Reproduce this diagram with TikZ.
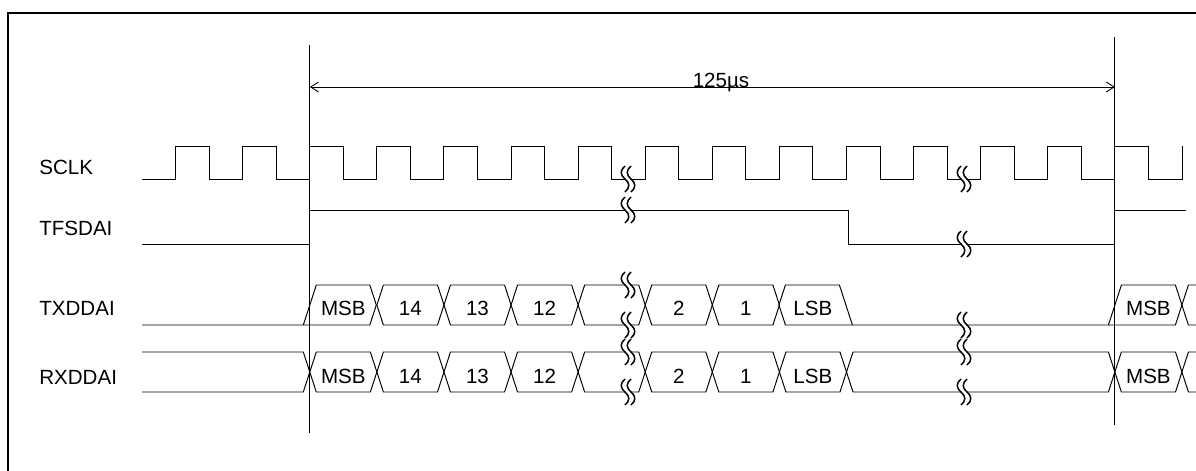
\documentclass[tikz,border=0pt]{standalone}
\usepackage{fontspec}
\setmainfont{Liberation Sans}
\usetikzlibrary{arrows.meta}

\begin{document}
\begin{tikzpicture}[
    x=0.02cm, y=-0.02cm,
    wave/.style={draw, line width=0.55pt},
    marker/.style={draw, line width=0.6pt},
    dim/.style={draw, line width=0.5pt, {Straight Barb[length=4.5pt,width=5.7pt]}-{Straight Barb[length=4.5pt,width=5.7pt]}},
    sig/.style={anchor=base west, inner sep=0pt, font={\fontsize{11.7pt}{14pt}\selectfont}},
    bit/.style={anchor=base, inner sep=0pt, font={\fontsize{11.7pt}{14pt}\selectfont}},
    brk/.pic={
      \fill[white] (-3,-13) .. controls (-8,-9) and (-8,-4) .. (-3,0) .. controls (2,4) and (2,9) .. (-3,13)
        -- (3,13) .. controls (8,9) and (8,4) .. (3,0) .. controls (-2,-4) and (-2,-9) .. (3,-13) -- cycle;
      \draw[line width=0.85pt] (-3,-13) .. controls (-8,-9) and (-8,-4) .. (-3,0) .. controls (2,4) and (2,9) .. (-3,13);
      \draw[line width=0.85pt] (3,-13) .. controls (-2,-9) and (-2,-4) .. (3,0) .. controls (8,4) and (8,9) .. (3,13);
    }
]
\useasboundingbox (0,0) rectangle (1196,470);
\clip (0,0) rectangle (1196,470);

% Frame
\draw[line width=1.1pt] (8,13) rectangle (1230,490);

% Signal names
\node[sig] (sclk) at (39,174) {SCLK};
\node[sig] (tfsdai) at (39,235) {TFSDAI};
\node[sig] (txddai) at (39,315) {TXDDAI};
\node[sig] (rxddai) at (39,384) {RXDDAI};

% Frame markers and period
\draw[marker] (309.8,45) -- (309.8,433);
\draw[marker] (1114.9,37) -- (1114.9,425);
\coordinate (start) at (309.8,87);
\coordinate (stop) at (1114.9,87);
\draw[dim] (start) -- (stop);
\node[bit] (period) at (721,87) {125µs};

% SCLK
\draw[wave] (142,179)
  \foreach \k in {0,...,14} { -- ({175.6+67.09*\k},179) -- ++(0,-33) -- ++(33.5,0) -- ++(0,33) }
  -- (1182,179) -- (1182,146);

% TFSDAI
\draw[wave] (142,244) -- (309.8,244) -- (309.8,210) -- (848.5,210) -- (848.5,244)
  -- (1114.9,244) -- (1114.9,210) -- (1186,210);

% TXDDAI
\draw[wave] (142,325) -- (369.8,325) -- (376.3,305) -- (369.8,285) -- (316.3,285) -- (303.3,325);
\draw[wave] (778.9,305) -- (785.4,325) -- (1175.4,325) -- (1181.9,305);
\draw[wave] (778.9,305) -- (785.4,285) -- (839.4,285) -- (852.4,325);
\draw[wave] (1108.4,325) -- (1121.4,285) -- (1175.4,285) -- (1181.9,305) -- (1188.4,285) -- (1196,285);
\draw[wave] (1181.9,305) -- (1188.4,325) -- (1196,325);
\foreach \i in {3,...,8} {
  \pgfmathsetmacro\xa{175.6+67.09*\i}
  \pgfmathsetmacro\xb{\xa+67.09}
  \draw[wave] (\xa,305) -- ++(6.5,-20) -- ({\xb-6.5},285) -- (\xb,305) -- ({\xb-6.5},325) -- ({\xa+6.5},325) -- cycle;
}
\foreach \lbl/\i in {MSB/2,14/3,13/4,12/5,2/7,1/8,LSB/9}
  \node[bit] (tx\i) at ({175.6+67.09*\i+33.5},315.5) {\lbl};
\node[bit] (txnext) at (1148.4,315.5) {MSB};

% RXDDAI
\draw[wave] (142,352) -- (303.3,352) -- (309.8,372) -- (303.3,392) -- (142,392);
\foreach \i/\n in {2/1,3/1,4/1,5/1,6/1,7/1,8/1,9/1,10/4,14/1} {
  \pgfmathsetmacro\xa{175.6+67.09*\i}
  \pgfmathsetmacro\xb{\xa+67.09*\n}
  \draw[wave] (\xa,372) -- ++(6.5,-20) -- ({\xb-6.5},352) -- (\xb,372) -- ({\xb-6.5},392) -- ({\xa+6.5},392) -- cycle;
}
\draw[wave] (1196,352) -- (1188.4,352) -- (1181.9,372) -- (1188.4,392) -- (1196,392);
\foreach \lbl/\i in {MSB/2,14/3,13/4,12/5,2/7,1/8,LSB/9}
  \node[bit] (rx\i) at ({175.6+67.09*\i+33.5},383) {\lbl};
\node[bit] (rxnext) at (1148.4,383) {MSB};

% Breaks
\foreach \y in {179,210,285,325,352,392}
  \pic at (628,\y) {brk};
\foreach \y in {179,244,325,352,392}
  \pic at (964,\y) {brk};

\end{tikzpicture}
\end{document}
